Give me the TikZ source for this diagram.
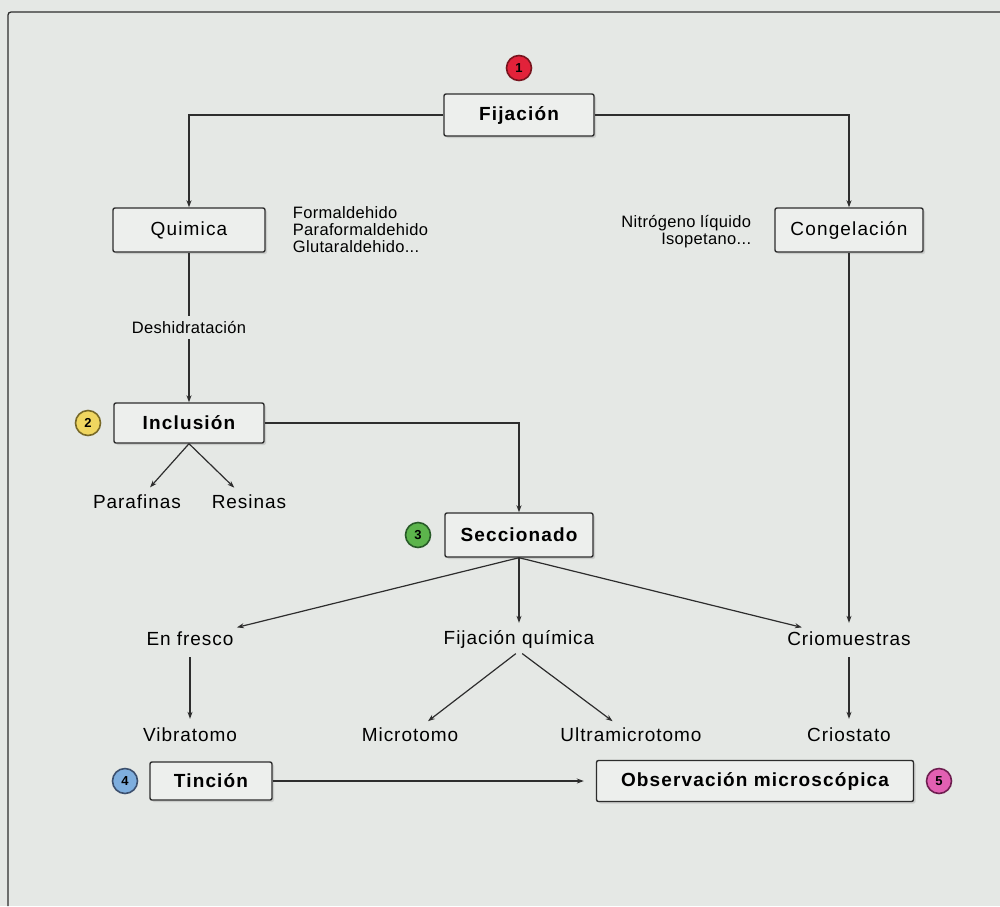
\documentclass[tikz,border=0pt]{standalone}
\usepackage{fontspec}
\setmainfont{Liberation Sans}
\newfontfamily\stagefont[LetterSpace=6]{Liberation Sans}
\newfontfamily\labelfont[LetterSpace=5]{Liberation Sans}
\newfontfamily\notefont[LetterSpace=2]{Liberation Sans}
\usetikzlibrary{positioning,arrows.meta,shadows}

\definecolor{paper}{RGB}{229,232,229}
\definecolor{boxfill}{RGB}{237,239,237}
\definecolor{ink}{RGB}{45,45,45}
\definecolor{redfill}{RGB}{226,34,58}
\definecolor{reddraw}{RGB}{120,20,30}
\definecolor{yelfill}{RGB}{240,214,96}
\definecolor{yeldraw}{RGB}{120,105,40}
\definecolor{grnfill}{RGB}{92,180,76}
\definecolor{grndraw}{RGB}{40,90,40}
\definecolor{blufill}{RGB}{126,174,222}
\definecolor{bludraw}{RGB}{60,80,110}
\definecolor{pnkfill}{RGB}{226,96,178}
\definecolor{pnkdraw}{RGB}{110,30,80}

\tikzset{
  stage/.style={draw=ink, line width=1.4pt, fill=boxfill, rounded corners=2pt,
    minimum width=150pt, minimum height=42pt,
    font=\stagefont\fontsize{19}{22}\selectfont\bfseries,
    drop shadow={shadow xshift=2pt, shadow yshift=-2pt, opacity=0.25}},
  method/.style={stage, font=\stagefont\fontsize{19}{22}\selectfont},
  lbl/.style={font=\labelfont\fontsize{19}{22}\selectfont, inner sep=3pt},
  note/.style={font=\notefont\fontsize{16.5}{17}\selectfont, inner sep=0pt},
  badge/.style={circle, line width=1.6pt, minimum size=25pt, inner sep=0pt,
    font=\fontsize{13}{13}\selectfont\bfseries},
  conn/.style={draw=ink, line width=1.2pt, -{Stealth[length=7pt,width=5pt]}},
}

\begin{document}
\begin{tikzpicture}[x=1pt, y=-1pt, on grid]
  \fill[paper] (0,0) rectangle (1000,906);
  \useasboundingbox (0,0) rectangle (1000,906);
  \draw[ink, line width=1.3pt, rounded corners=3pt] (8,906) -- (8,12) -- (1000,12);

  % top of the tree
  \node[stage] (fij) at (519,115) {Fijación};
  \node[badge, fill=redfill, draw=reddraw, above=47pt of fij] (b1) {1};
  \node[method, minimum width=152pt, minimum height=44pt, below left=115pt and 330pt of fij] (qui) {Quimica};
  \node[method, minimum width=148pt, minimum height=44pt, below right=115pt and 330pt of fij] (cong) {Congelación};
  \node[note, anchor=west, align=left] (fixers) at ([xshift=27pt]qui.east)
    {Formaldehido\\Paraformaldehido\\Glutaraldehido...};
  \node[note, anchor=east, align=right] (freezers) at ([xshift=-23pt,yshift=-2pt]cong.west)
    {Nitrógeno líquido\\Isopetano...};

  % inclusion
  \node[stage, minimum height=40pt, below=193pt of qui] (inc) {Inclusión};
  \node[badge, fill=yelfill, draw=yeldraw, left=101pt of inc] (b2) {2};
  \node[lbl, below left=79pt and 52pt of inc] (paraf) {Parafinas};
  \node[lbl, below right=79pt and 60pt of inc] (resin) {Resinas};

  % sectioning
  \node[stage, minimum width=148pt, minimum height=44pt, below=420pt of fij] (secc) {Seccionado};
  \node[badge, fill=grnfill, draw=grndraw, left=101pt of secc] (b3) {3};
  \node[lbl, below=104pt of secc] (fq) {Fijación química};
  \node[lbl, left=329pt of fq] (fresco) {En fresco};
  \node[lbl, right=330pt of fq] (crio) {Criomuestras};
  \node[lbl, below=96pt of fresco] (vib) {Vibratomo};
  \node[lbl, below left=96pt and 109pt of fq] (micro) {Microtomo};
  \node[lbl, below right=96pt and 112pt of fq] (ultra) {Ultramicrotomo};
  \node[lbl, below=96pt of crio] (crios) {Criostato};

  % last steps
  \node[stage, minimum width=122pt, minimum height=38pt, below right=46pt and 21pt of vib] (tin) {Tinción};
  \node[badge, fill=blufill, draw=bludraw, left=86pt of tin] (b4) {4};
  \node[stage, minimum width=317pt, minimum height=41pt, right=544pt of tin] (obs) {Observación microscópica};
  \node[badge, fill=pnkfill, draw=pnkdraw, right=184pt of obs] (b5) {5};

  \draw[conn] (fij.west) -| (qui.north);
  \draw[conn] (fij.east) -| (cong.north);
  \draw[conn] (qui) -- node[note, fill=paper, inner sep=5pt] {Deshidratación} (inc);
  \draw[conn] (inc.east) -| (secc.north);
  \draw[conn, shorten >=6pt] (inc.south) -- (paraf);
  \draw[conn, shorten >=6pt] (inc.south) -- (resin);
  \draw[conn, shorten >=6pt] (cong) -- (crio.north);
  \draw[conn, shorten >=6pt] (secc.south) -- (fresco);
  \draw[conn, shorten >=4pt] (secc.south) -- (fq);
  \draw[conn, shorten >=6pt] (secc.south) -- (crio);
  \draw[conn, shorten <=8pt, shorten >=6pt] (fresco) -- (vib);
  \draw[conn, shorten <=8pt, shorten >=6pt] (crio) -- (crios);
  \draw[conn, shorten <=4pt, shorten >=6pt] (fq.south) -- (micro);
  \draw[conn, shorten <=4pt, shorten >=6pt] (fq.south) -- (ultra);
  \draw[conn, shorten >=12pt] (tin) -- (obs);
\end{tikzpicture}
\end{document}
